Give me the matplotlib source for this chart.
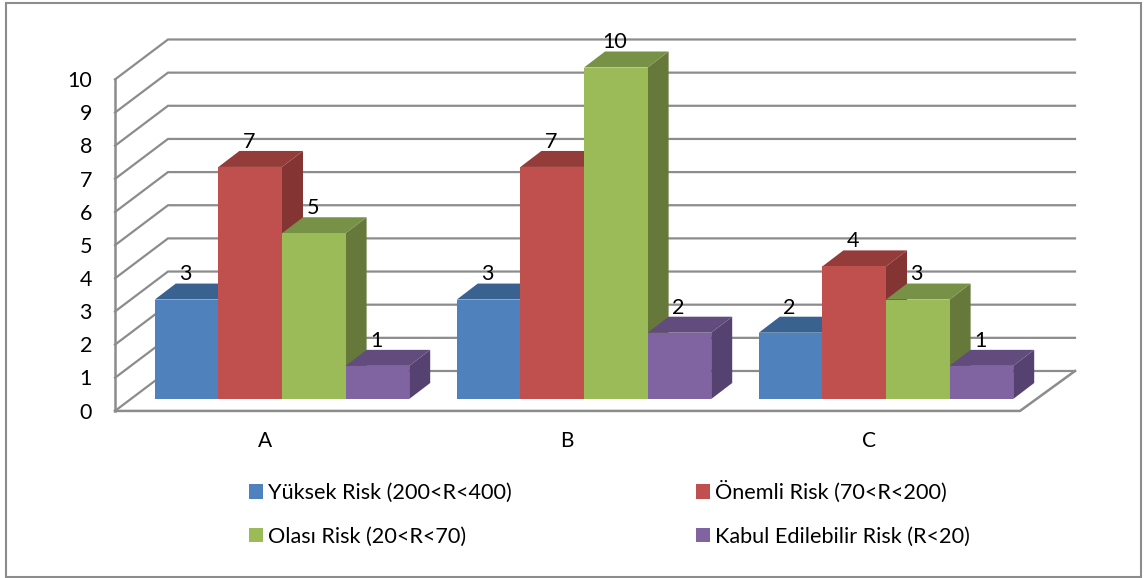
import numpy as np
import matplotlib
matplotlib.use("Agg")
import matplotlib.pyplot as plt
from matplotlib.patches import Polygon, Rectangle

plt.rcParams['font.family'] = ['Lato', 'DejaVu Sans']

# Veriler
categories = ['A', 'B', 'C']
yuksek = [3, 3, 2]
onemli = [7, 7, 4]
olasi = [5, 10, 3]
kabul = [1, 2, 1]
series_names = ['Yüksek Risk (200<R<400)', 'Önemli Risk (70<R<200)',
                'Olası Risk (20<R<70)', 'Kabul Edilebilir Risk (R<20)']
y_ticks = list(range(0, 11))

front_colors = ['#4F81BD', '#C0504D', '#9BBB59', '#8064A2']
top_colors = ['#3A6291', '#943C3A', '#779146', '#624C7D']
side_colors = ['#35587F', '#843533', '#66793B', '#564270']

W, H = 1148, 578
group_px = 302.0   # iki grup arasi piksel
unit_px = 33.15    # bir deger birimi piksel
x0_px, y0_px = 282.0, 399.0

fig = plt.figure(figsize=(W / 100, H / 100), dpi=100)
ax = fig.add_axes([0, 0, 1, 1])
ax.set_xlim(-x0_px / group_px, (W - x0_px) / group_px)
ax.set_ylim((y0_px - H) / unit_px, y0_px / unit_px)
ax.axis('off')

bar_w = 63.6 / group_px
depth_x = 21 / group_px
depth_y = 16 / unit_px

# 3B izgara
grid_col = '#8C8C8C'
fl, bl, br = -167 / group_px, -114 / group_px, 793 / group_px
fr = 738 / group_px
front0, back0 = -0.36, 0.845
for t in y_ticks:
    ax.plot([fl, bl, br], [t + front0, t + back0, t + back0], color=grid_col, lw=1.6, zorder=1,
            solid_joinstyle='miter')
    ax.text(-190 / group_px, t + front0 - 0.05, str(t), ha='right', va='center', fontsize=15.5, color='black')
ax.plot([fl, fl], [front0, y_ticks[-1] + front0], color=grid_col, lw=1.8, zorder=1)
ax.plot([fl, fr, br], [front0, front0, back0], color=grid_col, lw=1.8, zorder=1)

# Cubuklar
all_series = [yuksek, onemli, olasi, kabul]
x_idx = np.arange(len(categories))
for s, vals in enumerate(all_series):
    for i, v in zip(x_idx, vals):
        x = i + (s - 2) * bar_w
        ax.add_patch(Polygon([[x + bar_w, 0], [x + bar_w + depth_x, depth_y],
                              [x + bar_w + depth_x, v + depth_y], [x + bar_w, v]],
                             facecolor=side_colors[s], edgecolor='none', zorder=2 + s))
        ax.add_patch(Polygon([[x, v], [x + depth_x, v + depth_y],
                              [x + bar_w + depth_x, v + depth_y], [x + bar_w, v]],
                             facecolor=top_colors[s], edgecolor='none', zorder=2 + s))
        ax.bar(x + bar_w / 2, v, width=bar_w, color=front_colors[s], zorder=2 + s)
        ax.text(x + bar_w / 2 - 1 / group_px, v + 0.76, str(v), ha='center', va='center',
                fontsize=15.5, color='black', zorder=10)

# Kategori etiketleri
for i, c in zip(x_idx, categories):
    ax.text(i - 17 / group_px, -1.27, c, ha='center', va='center', fontsize=15, color='black')

# Lejant
handles = [Rectangle((0, 0), 1, 1, facecolor=c, edgecolor='none') for c in front_colors]
# satir satir: sol sutun Yuksek/Olasi, sag sutun Onemli/Kabul
order = [0, 2, 1, 3]
ax.legend([handles[k] for k in order], [series_names[k] for k in order], ncol=2, frameon=False,
          loc='upper left', bbox_to_anchor=(249 / W, 1 - 481 / H), fontsize=15.6,
          handlelength=0.645, handleheight=0.65, handletextpad=0.23, columnspacing=8.5, labelspacing=1.08,
          borderpad=0, borderaxespad=0)

# Dis cerceve
ax.add_patch(Rectangle((-276 / group_px, (y0_px - 577) / unit_px), 1135 / group_px, 574 / unit_px,
                       fill=False, edgecolor='#8C8C8C', lw=1.5, zorder=0, clip_on=False))

fig.savefig('out.png', dpi=100)
